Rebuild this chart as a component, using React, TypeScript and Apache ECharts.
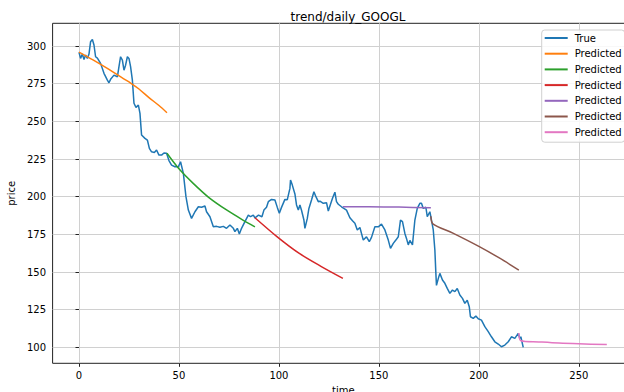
import React, { useEffect, useRef } from "react";
import * as echarts from "echarts";

const trueX = [0, 0.8, 1.7, 2.5, 3.3, 4.2, 5, 5.8, 6.7, 7.5, 8.3, 9.2, 10.8, 12.5, 14.2, 15, 15.8, 17.5, 19.2, 20, 20.8, 21.7, 22.5, 23.3, 24.2, 25, 25.8, 26.7, 27.5, 28.5, 29.7, 30.5, 31.3, 33, 34.2, 35.2, 36.3, 37.7, 38.8, 40, 41.3, 42.5, 43.8, 45, 46.3, 48, 49.7, 50.8, 52.2, 53.5, 54.7, 56.3, 58, 59.7, 61.3, 63, 63.8, 65.5, 67.2, 68.8, 70.5, 72.2, 73.8, 75.5, 77.2, 78, 79.2, 80.2, 81.3, 83, 84.7, 85.8, 87.2, 88, 89.8, 91.5, 92.5, 93.8, 94.7, 96.3, 98, 99.2, 100.2, 101.3, 103, 104.2, 105.5, 105.8, 106.7, 108, 108.8, 109.7, 110.5, 111.3, 112.5, 113, 114.2, 115, 116.3, 117.5, 118.5, 119.7, 120.5, 122.2, 123.8, 124.7, 125.8, 126.8, 128, 128.8, 129.7, 131.3, 133.8, 135.5, 136.8, 138, 139.2, 140.5, 142.2, 143.8, 145.2, 146.3, 148, 149.7, 151.3, 153, 154.7, 155.8, 157.2, 158.5, 159.7, 160.8, 161.8, 163, 163.8, 164.7, 165.5, 166.8, 168, 169.2, 170.5, 171.3, 172.2, 173.5, 174.2, 175.5, 176.3, 177.2, 178, 178.5, 178.8, 179.7, 180.5, 181.8, 183, 184.2, 185.5, 186.8, 188, 189.2, 190.5, 191.8, 193, 194.2, 195.2, 195.8, 197.2, 198.5, 199.7, 201.3, 203, 204.7, 206.3, 208, 209.7, 211.3, 213, 214.7, 216.3, 218, 219.7, 220.5, 221, 222.2];
const trueY = [295.8, 291.8, 294.7, 291, 294, 291.8, 294.7, 302.9, 304.4, 300.7, 292.9, 292, 288.5, 281.9, 277.4, 275.6, 277.9, 280.7, 279.6, 286.3, 292.9, 290.7, 284, 287.3, 292.9, 291.8, 286.3, 277.4, 262, 259.3, 260.8, 255.3, 240.9, 238.7, 237.6, 232.1, 229.8, 229.3, 231, 227.6, 227.6, 229, 228.8, 224, 221, 219.9, 219.9, 223.2, 215.5, 200, 191.1, 185.6, 190, 193.3, 193, 193.8, 190, 186.7, 180, 180.3, 179.7, 180.3, 179, 181.2, 179, 176.8, 179, 175.2, 179, 183.4, 187.8, 186.7, 187.8, 186, 187.8, 186.7, 191.1, 193, 196.7, 198.2, 197.8, 192.9, 189, 192.9, 198.2, 198, 205.5, 211, 207.7, 201.8, 194.5, 191.1, 194.5, 191, 184.5, 179, 185.6, 192.2, 197.8, 203.3, 200, 196.7, 197, 195.6, 196, 190.5, 195, 198.9, 203, 196.7, 195, 193.3, 191.1, 186, 184, 182.3, 177.9, 179.5, 171.2, 173.4, 170.1, 173, 180, 180, 181.8, 177.9, 171.2, 165.7, 169, 171.2, 173.4, 184.5, 183.5, 175.6, 172.3, 168, 171, 168, 184.5, 192.2, 195.6, 195.6, 192.2, 193, 186.7, 190, 184.5, 177.9, 164.6, 149.1, 141.1, 145.6, 149.1, 144.7, 142.5, 139.1, 135.8, 138, 137, 139.1, 134.7, 132.5, 129.2, 131.3, 127, 120.3, 119.2, 120.8, 119, 118.1, 113.7, 110.4, 107, 103.7, 102.2, 100.4, 101.5, 103.7, 107, 105.9, 109.3, 105.9, 107, 100];

const pred1X = [0, 7, 15, 22, 26, 30, 35, 40, 44];
const pred1Y = [296, 290.8, 284.5, 278.6, 275.3, 271.5, 265.8, 260.5, 255.7];
const pred2X = [44, 50, 57, 65, 74, 82, 88];
const pred2Y = [228.8, 218.5, 209, 199.4, 191, 184.5, 180];
const pred3X = [88, 99, 110, 121, 132];
const pred3Y = [186, 173.5, 162.5, 153.8, 145.8];
const pred4X = [132, 145, 160, 176];
const pred4Y = [193.3, 193.3, 193.1, 192.6];
const pred5X = [176, 177, 187, 200, 210, 220];
const pred5Y = [187, 182, 175.8, 167, 159.5, 151.3];
const pred6X = [220, 221, 230, 240, 250, 264];
const pred6Y = [109.5, 104.4, 103.6, 102.8, 102.3, 101.8];

const xTicks = [0, 50, 100, 150, 200, 250];
const yTicks = [100, 125, 150, 175, 200, 225, 250, 275, 300];

const colors = ["#1f77b4", "#ff7f0e", "#2ca02c", "#d62728", "#9467bd", "#8c564b", "#e377c2"];
const FONT = "DejaVu Sans";

const zip = (xs: number[], ys: number[]) => xs.map((x, i) => [x, ys[i]]);

export default function App() {
  const ref = useRef<HTMLDivElement>(null);
  useEffect(() => {
    document.body.style.margin = "0";
    const chart = echarts.init(ref.current!, null, { renderer: "svg" });
    const preds = [
      [pred1X, pred1Y],
      [pred2X, pred2Y],
      [pred3X, pred3Y],
      [pred4X, pred4Y],
      [pred5X, pred5Y],
      [pred6X, pred6Y],
    ];
    const series: any[] = [
      {
        name: "True",
        type: "line",
        data: zip(trueX, trueY),
        symbol: "none",
        lineStyle: { width: 1.5, color: colors[0] },
        itemStyle: { color: colors[0] },
      },
    ];
    preds.forEach((p, i) => {
      series.push({
        name: "Predicted" + " ".repeat(i),
        type: "line",
        data: zip(p[0], p[1]),
        symbol: "none",
        smooth: 0.3,
        lineStyle: { width: 1.5, color: colors[i + 1] },
        itemStyle: { color: colors[i + 1] },
      });
    });
    chart.setOption({
      animation: false,
      title: {
        text: "trend/daily_GOOGL",
        left: 343,
        top: 6,
        textAlign: "center",
        textStyle: { fontFamily: FONT, fontSize: 12, fontWeight: "normal", color: "#000" },
      },
      grid: {
        left: 52.6,
        top: 23.3,
        width: 581.4,
        height: 340,
        outerBoundsMode: "none",
        containLabel: false,
        show: true,
        borderColor: "#222",
        borderWidth: 1,
        backgroundColor: "transparent",
      },
      legend: {
        orient: "vertical",
        left: 541.7,
        top: 30,
        padding: [1, 3, 3, 3],
        itemGap: 1.7,
        itemWidth: 23,
        itemHeight: 2,
        icon: "rect",
        backgroundColor: "rgba(255,255,255,0.85)",
        borderColor: "#d0d0d0",
        borderWidth: 1,
        borderRadius: 3,
        formatter: (name: string) => name.trim(),
        textStyle: { fontFamily: FONT, fontSize: 10, color: "#000", lineHeight: 14, padding: [0, 0, 0, 2] },
        data: series.map((s) => s.name),
      },
      xAxis: {
        type: "value",
        min: -13.2,
        max: 277.6,
        minInterval: 50,
        maxInterval: 50,
        name: "time",
        nameLocation: "middle",
        nameGap: 22,
        nameTextStyle: { fontFamily: FONT, fontSize: 10, color: "#000" },
        axisLine: { show: false },
        axisTick: { show: true, length: 3.5, customValues: xTicks, lineStyle: { color: "#222" } },
        axisLabel: { customValues: xTicks, margin: 7, fontFamily: FONT, fontSize: 10, color: "#000" },
        splitLine: { show: true, lineStyle: { color: "#d0d0d0", width: 1 } },
      },
      yAxis: {
        type: "value",
        min: 89.4,
        max: 315.1,
        minInterval: 25,
        maxInterval: 25,
        name: "price",
        nameLocation: "middle",
        nameGap: 30,
        nameTextStyle: { fontFamily: FONT, fontSize: 10, color: "#000" },
        axisLine: { show: false },
        axisTick: { show: true, length: 3.5, customValues: yTicks, lineStyle: { color: "#222" } },
        axisLabel: { customValues: yTicks, margin: 6.5, fontFamily: FONT, fontSize: 10, color: "#000" },
        splitLine: { show: true, lineStyle: { color: "#d0d0d0", width: 1 } },
      },
      series,
    });
    return () => chart.dispose();
  }, []);
  return <div ref={ref} style={{ width: 624, height: 392 }} />;
}
